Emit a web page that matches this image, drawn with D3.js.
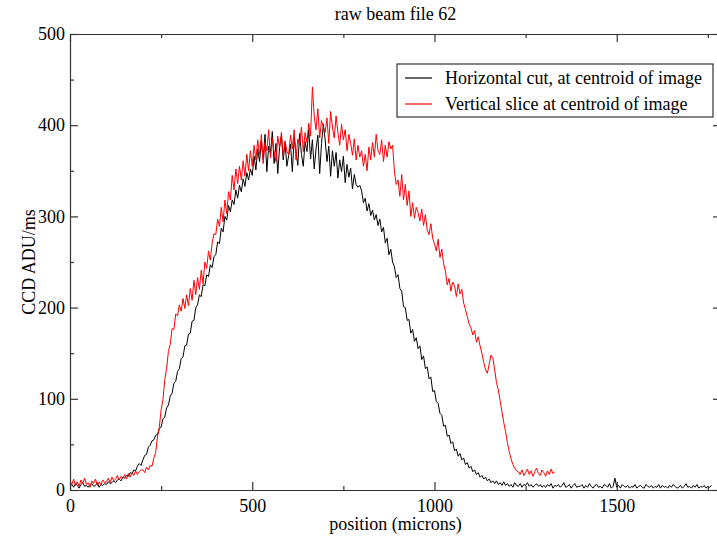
<!DOCTYPE html>
<html>
<head>
<meta charset="utf-8">
<script src="https://cdn.jsdelivr.net/npm/d3@7"></script>
<style>
  body { margin: 0; background: #fff; }
  svg text { font-family: "Liberation Serif", "Times New Roman", serif; fill: #000; }
</style>
</head>
<body>
<div id="chart"></div>
<script>
// Sampling grid of both cuts (microns)
const xStep = 5;

// Horizontal cut, at centroid of image (0 .. 1760 microns)
const horizontalCut = [
  4,6,3,7,5,2,6,8,4,5,3,6,7,4,5,8,3,6,5,7,
  6,9,7,8,10,8,11,12,10,14,13,16,15,19,18,22,21,26,29,27,
  33,38,39,47,49,54,55,60,61,67,69,78,80,90,93,103,106,117,119,130,
  133,144,146,158,159,171,172,185,186,200,203,214,212,225,224,236,234,247,244,256,
  258,272,270,287,283,300,296,312,305,318,313,329,320,334,327,341,333,348,340,352,
  345,366,351,374,360,382,362,390,349,377,369,393,358,380,347,376,388,362,381,355,
  367,379,349,386,371,356,391,368,355,382,371,395,363,384,352,374,389,347,380,401,
  384,360,377,344,372,355,370,342,362,349,366,337,357,343,353,330,346,335,332,334,
  328,315,320,306,314,301,307,296,302,290,297,283,288,271,276,258,264,250,245,233,
  236,221,218,201,200,186,187,172,176,163,167,155,158,143,147,133,135,122,124,108,
  109,97,95,84,82,70,71,59,60,51,53,43,45,37,40,33,35,28,30,24,
  26,20,22,17,19,14,16,12,14,10,12,8,10,7,10,6,8,5,9,5,
  7,4,6,3,8,5,4,7,3,6,5,8,4,6,3,5,7,4,6,3,
  5,3,6,4,7,2,5,4,6,3,5,8,3,4,6,2,5,7,3,4,
  4,6,2,5,3,7,4,2,5,6,3,4,2,6,5,3,7,2,4,13,
  3,5,2,6,4,3,5,2,4,3,6,2,4,5,3,2,6,4,3,5,
  2,4,3,6,2,5,3,4,2,5,3,6,4,2,3,5,2,4,7,3,
  4,2,5,3,6,2,4,3,5,2,4,3,5
];

// Vertical slice at centroid of image (0 .. 1330 microns)
const verticalSlice = [
  10,6,12,5,9,4,11,7,13,6,8,3,10,7,12,5,9,6,11,8,
  9,13,8,14,10,12,16,11,15,13,17,12,18,14,19,16,21,17,20,22,
  22,19,25,22,27,26,35,41,58,69,88,99,121,133,152,160,177,176,193,191,
  203,196,210,199,214,202,221,208,230,214,233,220,241,226,250,243,262,252,271,281,
  280,297,289,310,294,318,303,327,318,345,329,352,336,355,340,361,344,368,350,372,
  355,378,362,384,368,390,358,381,372,395,364,386,370,360,388,375,392,366,383,371,
  368,389,374,395,362,385,378,398,371,392,381,402,388,442,410,395,418,386,405,398,
  392,408,380,415,398,386,410,392,378,401,384,395,372,390,380,367,385,362,378,365,
  372,355,368,350,376,362,381,365,390,372,368,384,360,378,365,382,374,378,350,335,
  340,322,346,318,335,312,328,300,315,298,310,304,295,308,290,302,285,280,292,276,
  270,262,275,255,264,248,240,225,232,218,228,224,212,226,215,220,205,198,190,182,
  178,170,175,162,168,158,150,140,132,128,138,148,145,132,118,110,98,86,74,64,
  52,42,34,28,24,21,20,17,22,16,19,23,17,21,15,20,24,18,16,22,
  19,15,21,17,23,18,20
];

const xMajorTicks = [0, 500, 1000, 1500];
const xMinorTicks = [250, 750, 1250, 1750];
const yMajorTicks = [0, 100, 200, 300, 400, 500];
const yMinorTicks = [50, 150, 250, 350, 450];

const seriesNames = ["Horizontal cut, at centroid of image", "Vertical slice at centroid of image"];
const seriesColors = ["#000000", "#ff0000"];

const totalWidth = 717, totalHeight = 536;
const margin = { top: 34, right: -4, bottom: 46, left: 70 }; // right axis sits just past the picture edge
const width = totalWidth - margin.left - margin.right;
const height = totalHeight - margin.top - margin.bottom;

const svg = d3.select("#chart").append("svg")
    .attr("width", totalWidth)
    .attr("height", totalHeight);

const g = svg.append("g")
    .attr("transform", `translate(${margin.left},${margin.top})`);

const x = d3.scaleLinear().domain([0, 1786]).range([0, width]);
const y = d3.scaleLinear().domain([0, 500]).range([height, 0]);

// Clip the traces to the frame
g.append("clipPath").attr("id", "plotClip")
    .append("rect").attr("width", width).attr("height", height);

const line = d3.line()
    .x((d, i) => x(i * xStep))
    .y(d => y(d));

const series = [horizontalCut, verticalSlice];
g.append("g").attr("clip-path", "url(#plotClip)")
    .selectAll("path")
    .data(series)
    .join("path")
    .attr("fill", "none")
    .attr("stroke", (d, i) => seriesColors[i])
    .attr("stroke-width", 1)
    .attr("d", line);

// Frame with inward ticks on all four sides
function tickAxis(axisFn, scale, ticks, size, labels) {
    return axisFn(scale).tickValues(ticks).tickSizeInner(-size).tickSizeOuter(0)
        .tickFormat(labels ? d3.format("d") : "");
}

const axes = [
    { fn: d3.axisBottom, s: x, at: `translate(0,${height})` },
    { fn: d3.axisTop, s: x, at: "translate(0,0)" },
    { fn: d3.axisLeft, s: y, at: "translate(0,0)" },
    { fn: d3.axisRight, s: y, at: `translate(${width},0)` }
];
axes.forEach((a, k) => {
    const isX = a.s === x;
    const major = isX ? xMajorTicks : yMajorTicks;
    const minor = isX ? xMinorTicks : yMinorTicks;
    const showLabels = k === 0 || k === 2;
    const ga = g.append("g").attr("transform", a.at)
        .call(tickAxis(a.fn, a.s, major, 8, showLabels));
    ga.selectAll("text").style("font-size", "18px").attr("fill", "#000");
    if (k === 0) ga.selectAll("text").attr("y", 9).attr("dy", "0.71em");
    if (k === 2) ga.selectAll("text").attr("x", -5);
    g.append("g").attr("transform", a.at)
        .call(tickAxis(a.fn, a.s, minor, 4, false))
        .select(".domain").remove();
    ga.selectAll(".domain, line").attr("stroke", "#333").attr("stroke-width", 1.2);
});
g.selectAll(".tick line").attr("stroke", "#333").attr("stroke-width", 1.2);

// Title and axis labels
svg.append("text")
    .attr("x", margin.left + width / 2)
    .attr("y", 20)
    .attr("text-anchor", "middle")
    .style("font-size", "18px")
    .text("raw beam file 62");

svg.append("text")
    .attr("x", margin.left + width / 2)
    .attr("y", 530)
    .attr("text-anchor", "middle")
    .style("font-size", "18px")
    .text("position (microns)");

svg.append("text")
    .attr("transform", `translate(35,${margin.top + height / 2}) rotate(-90)`)
    .attr("text-anchor", "middle")
    .style("font-size", "18px")
    .text("CCD ADU/ms");

// Legend
const legend = svg.append("g").attr("transform", "translate(397,64)");
legend.append("rect")
    .attr("width", 316).attr("height", 53)
    .attr("fill", "#fff").attr("stroke", "#333").attr("stroke-width", 1.2);
seriesNames.forEach((name, i) => {
    const yy = 14 + i * 26;
    legend.append("line")
        .attr("x1", 8).attr("x2", 35).attr("y1", yy).attr("y2", yy)
        .attr("stroke", seriesColors[i]).attr("stroke-width", 1.2);
    legend.append("text")
        .attr("x", 48).attr("y", yy + 6)
        .style("font-size", "18px")
        .text(name);
});
</script>
</body>
</html>
